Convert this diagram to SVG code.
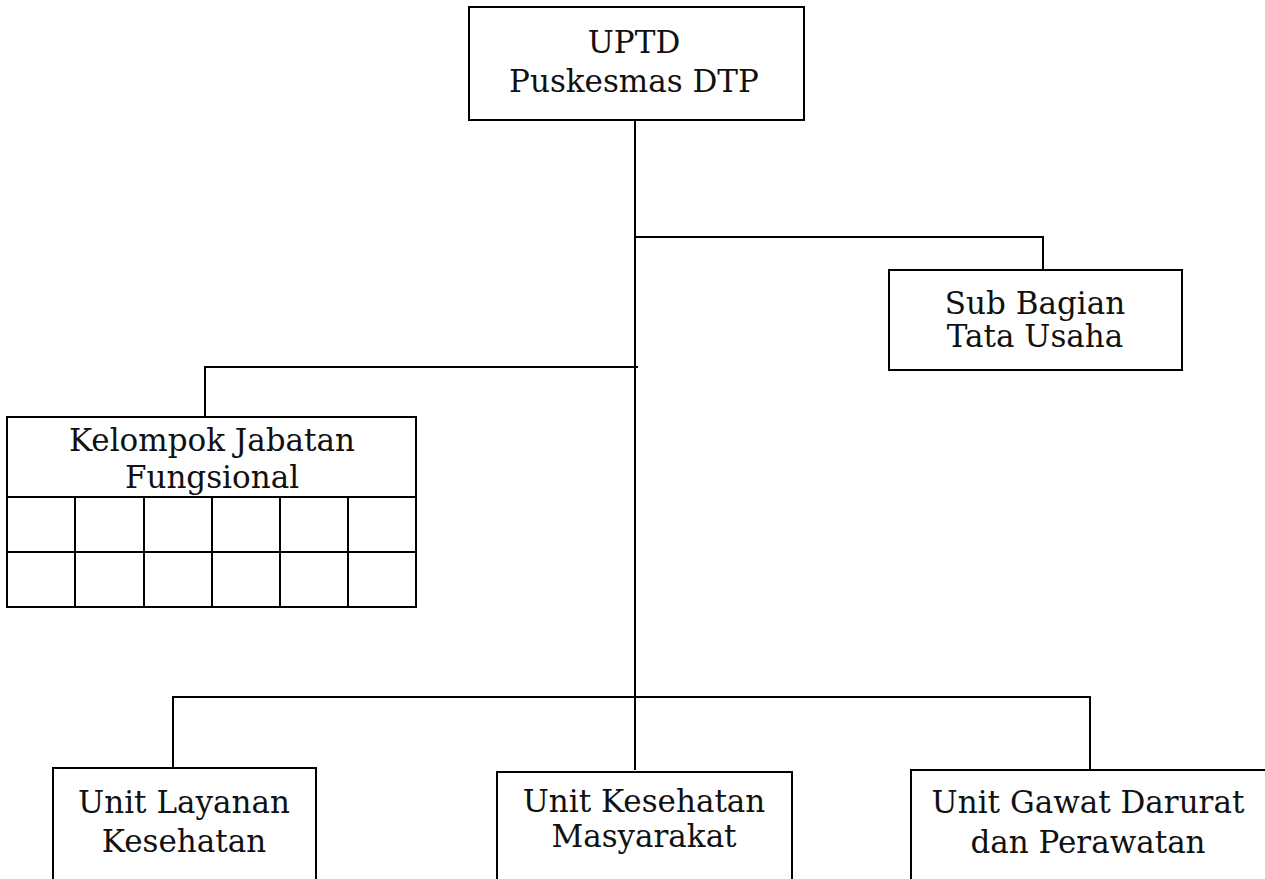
<svg xmlns="http://www.w3.org/2000/svg" width="1265" height="879" viewBox="0 0 1265 879">
<style>
.box{fill:#fff;stroke:#000;stroke-width:2}
.ln{fill:none;stroke:#000;stroke-width:2}
text{font-family:"DejaVu Serif","Liberation Serif",serif;font-size:31px;fill:#111;text-anchor:middle}
</style>
<rect width="1265" height="879" fill="#fff"/>
<g id="connectors" class="ln">
<path d="M635 120V770"/>
<path d="M635 237H1043V270"/>
<path d="M205 417V367H638"/>
<path d="M173 768V697H1090V770"/>
</g>
<g id="uptd">
<rect class="box" x="469" y="7" width="335" height="113"/>
<text x="634" y="53">UPTD</text>
<text x="634" y="92">Puskesmas DTP</text>
</g>
<g id="subbagian">
<rect class="box" x="889" y="270" width="293" height="100"/>
<text x="1035" y="314">Sub Bagian</text>
<text x="1035" y="347">Tata Usaha</text>
</g>
<g id="kelompok">
<rect class="box" x="7" y="417" width="409" height="190"/>
<text x="212" y="451">Kelompok Jabatan</text>
<text x="212" y="488">Fungsional</text>
<path class="ln" d="M7 497H416M7 552H416M75 497V607M144 497V607M212 497V607M280 497V607M348 497V607"/>
</g>
<g id="unitlayanan">
<rect class="box" x="53" y="768" width="263" height="130"/>
<text x="184" y="813">Unit Layanan</text>
<text x="184" y="852">Kesehatan</text>
</g>
<g id="unitkesmas">
<rect class="box" x="497" y="772" width="295" height="130"/>
<text x="644" y="812">Unit Kesehatan</text>
<text x="644" y="847">Masyarakat</text>
</g>
<g id="unitgawat">
<rect class="box" x="911" y="770" width="380" height="130"/>
<text x="1088" y="813">Unit Gawat Darurat</text>
<text x="1088" y="853">dan Perawatan</text>
</g>
</svg>
